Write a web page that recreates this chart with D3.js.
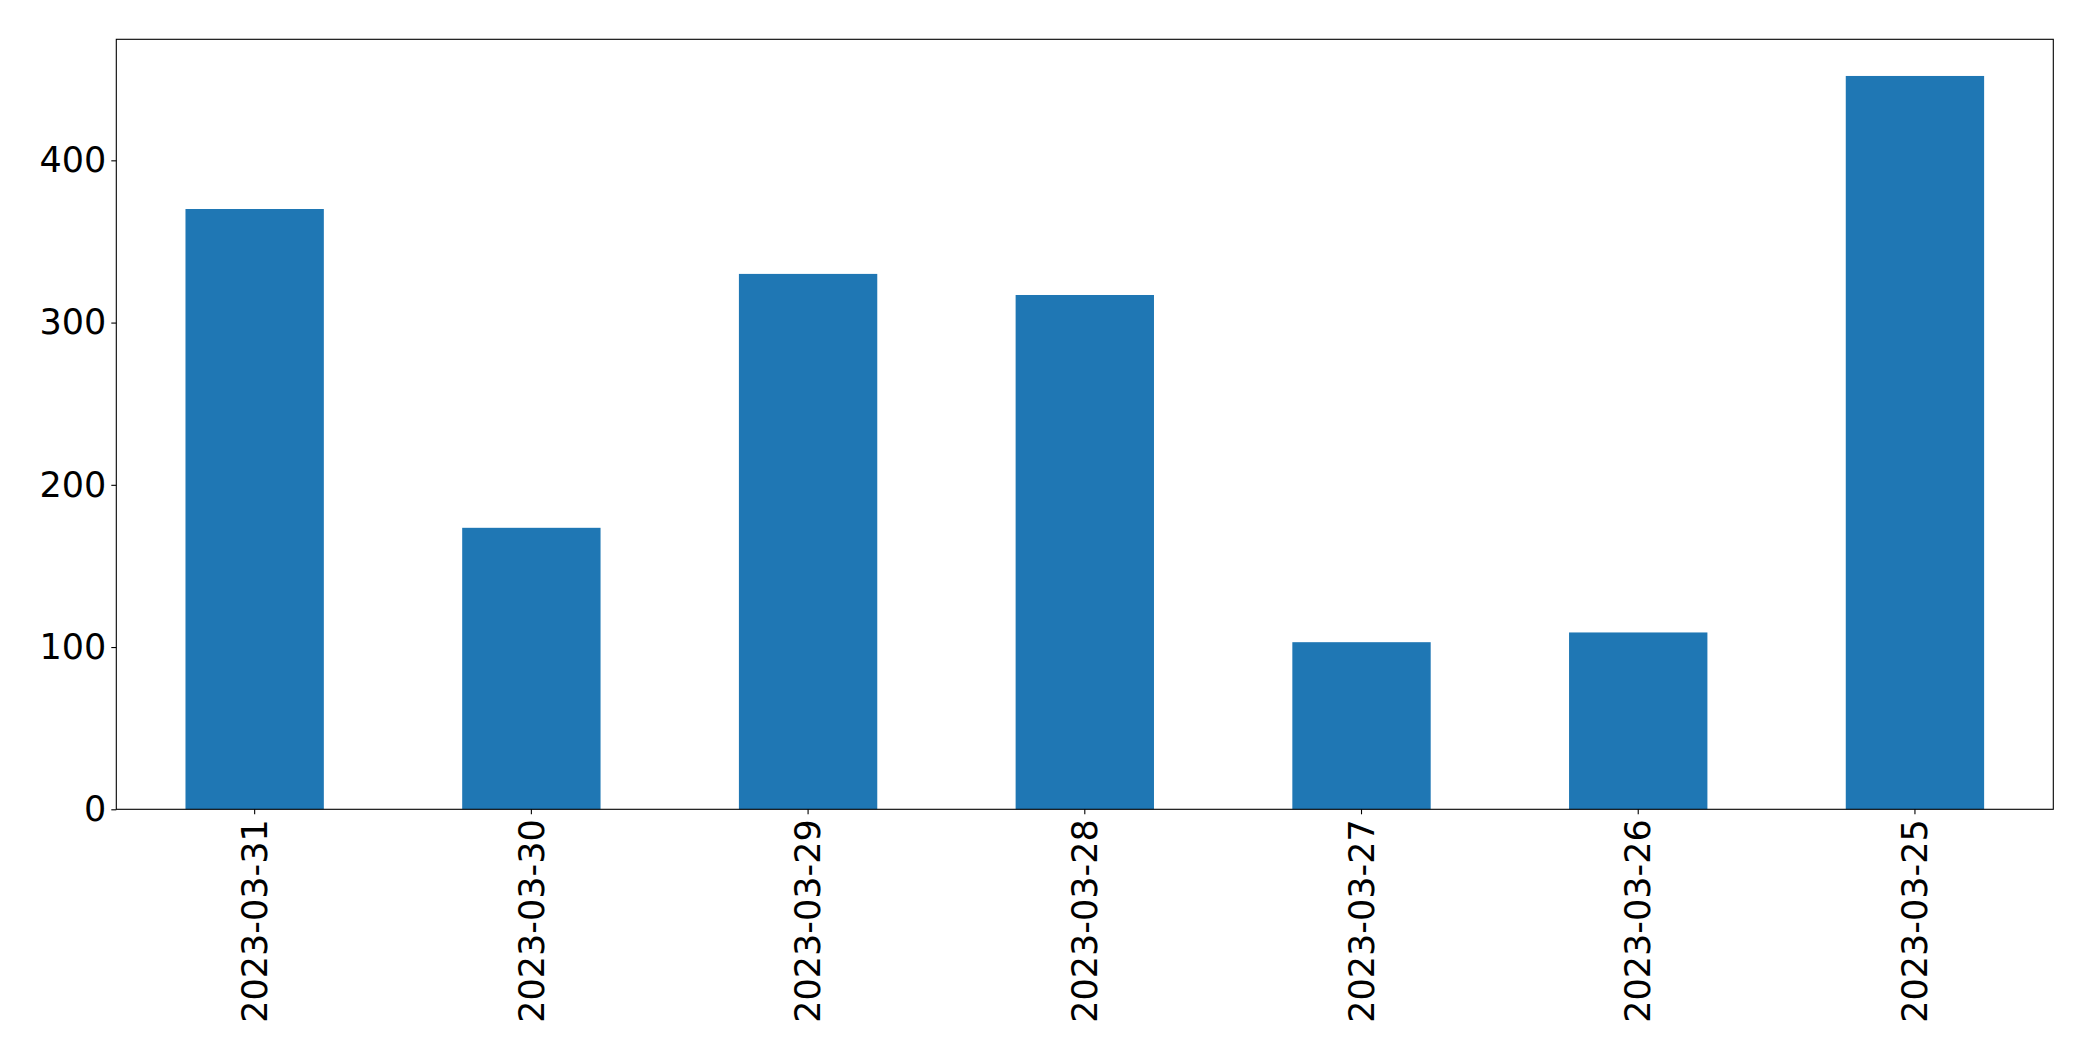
<!DOCTYPE html>
<html>
<head>
<meta charset="utf-8">
<script src="https://cdn.jsdelivr.net/npm/d3@7"></script>
<style>
  html, body { margin: 0; padding: 0; background: #fff; }
  svg { display: block; }
  text { font-family: "DejaVu Sans", sans-serif; }
</style>
</head>
<body>
<svg id="chart" width="2093" height="1061"></svg>
<script>
const categories = ["2023-03-31", "2023-03-30", "2023-03-29", "2023-03-28", "2023-03-27", "2023-03-26", "2023-03-25"];
const values = [370, 173.5, 330, 317, 103, 109, 452];
const yTicks = [0, 100, 200, 300, 400];

const W = 2093, H = 1061;
const margin = { left: 116.3, top: 39.3, right: W - 2053.3, bottom: H - 809.3 };
const iw = W - margin.left - margin.right;
const ih = H - margin.top - margin.bottom;

const svg = d3.select("#chart");
const g = svg.append("g").attr("transform", `translate(${margin.left},${margin.top})`);

const x = d3.scaleBand().domain(categories).range([0, iw]).paddingInner(0.5).paddingOuter(0.25);
const y = d3.scaleLinear().domain([0, d3.max(values) * 1.05]).range([ih, 0]);

g.selectAll("rect.bar")
  .data(categories.map((c, i) => ({ c, v: values[i] })))
  .enter().append("rect")
  .attr("class", "bar")
  .attr("x", d => x(d.c))
  .attr("y", d => y(d.v))
  .attr("width", x.bandwidth())
  .attr("height", d => ih - y(d.v))
  .attr("fill", "#1f77b4");

// frame
g.append("rect")
  .attr("x", 0).attr("y", 0).attr("width", iw).attr("height", ih)
  .attr("fill", "none").attr("stroke", "#000").attr("stroke-width", 1.1);

const yAxis = d3.axisLeft(y).tickValues(yTicks).tickSize(5).tickPadding(5).tickFormat(d3.format("d"));
const ya = g.append("g").call(yAxis);
ya.select(".domain").remove();
ya.selectAll("line").attr("stroke", "#000").attr("stroke-width", 1.1);
ya.selectAll("text").attr("font-size", "35px").attr("fill", "#000")
  .attr("font-family", "DejaVu Sans, sans-serif");

const xAxis = d3.axisBottom(x).tickSize(5).tickPadding(5);
const xa = g.append("g").attr("transform", `translate(0,${ih})`).call(xAxis);
xa.select(".domain").remove();
xa.selectAll("line").attr("stroke", "#000").attr("stroke-width", 1.1);
xa.selectAll("text")
  .attr("font-size", "35px").attr("fill", "#000")
  .attr("font-family", "DejaVu Sans, sans-serif")
  .attr("transform", "rotate(-90)")
  .attr("text-anchor", "end")
  .attr("x", -10)
  .attr("y", 0)
  .attr("dy", "0.35em");
</script>
</body>
</html>
